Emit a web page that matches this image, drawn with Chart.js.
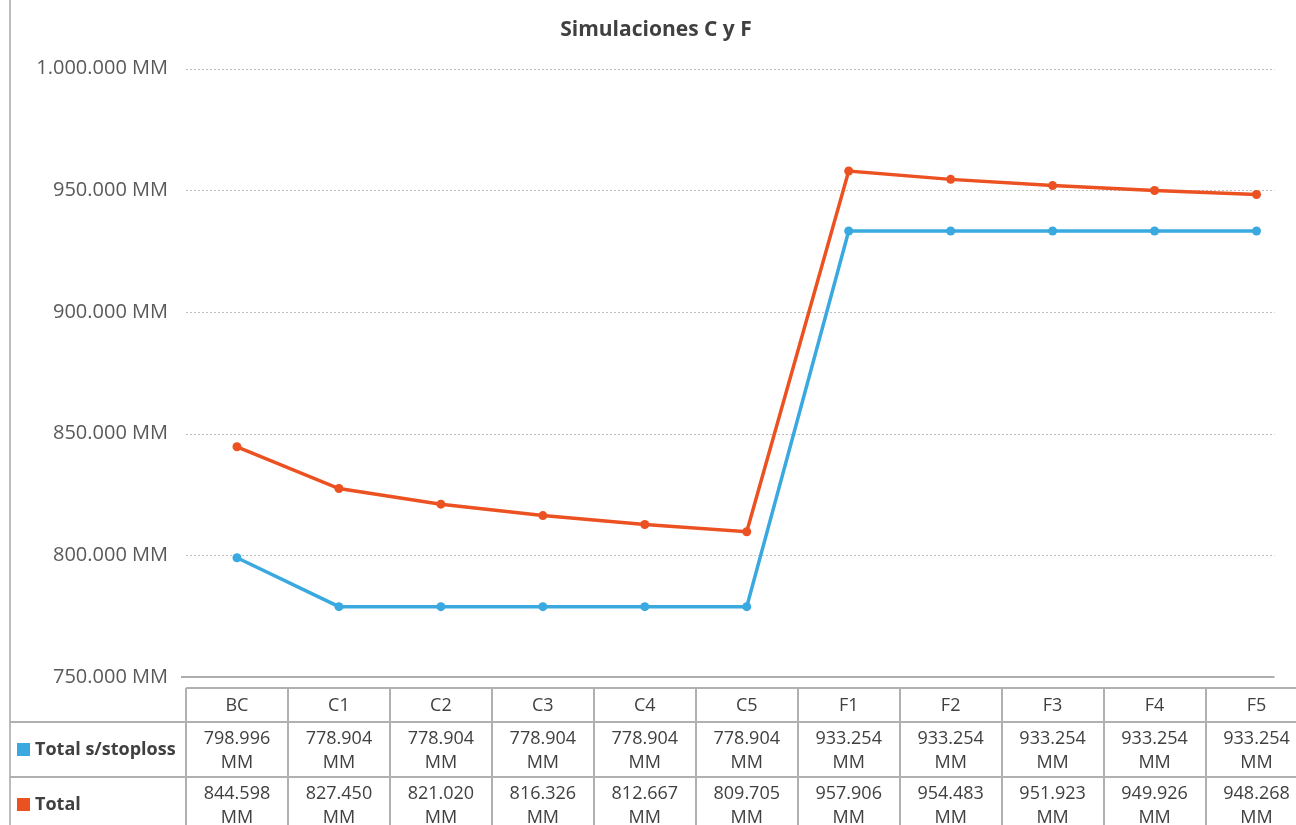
<!DOCTYPE html>
<html>
<head>
<meta charset="utf-8">
<script src="https://cdn.jsdelivr.net/npm/chart.js@4/dist/chart.umd.min.js"></script>
<style>
  html, body { margin: 0; padding: 0; background: #fff; overflow: hidden; }
  canvas { display: block; }
</style>
</head>
<body>
<canvas id="canvas" width="1312" height="825"></canvas>
<script>
// datos (en MM)
var categorias = ['BC', 'C1', 'C2', 'C3', 'C4', 'C5', 'F1', 'F2', 'F3', 'F4', 'F5']
var totalSinStoploss = [798996, 778904, 778904, 778904, 778904, 778904, 933254, 933254, 933254, 933254, 933254]
var totalConStoploss = [844598, 827450, 821020, 816326, 812667, 809705, 957906, 954483, 951923, 949926, 948268]
var nombresSeries = ['Total s/stoploss', 'Total']
var yMin = 750000
var yMax = 1000000
var yPaso = 50000

var azul = '#3AA9E0'
var naranja = '#EC5121'
var fuente = '"Open Sans", "Liberation Sans", sans-serif'

function formato(v) {
    return String(Math.round(v)).replace(/\B(?=(\d{3})+(?!\d))/g, '.') + ' MM'
}

// rejilla punteada, eje, borde y tabla de datos
var tablaPlugin = {
    id: 'tabla',
    beforeDatasetsDraw: function (chart) {
        var ctx = chart.ctx
        var ca = chart.chartArea
        var y = chart.scales.y
        var derecha = ca.right - 33
        ctx.save()
        ctx.strokeStyle = '#BDBDBD'
        ctx.lineWidth = 1
        ctx.setLineDash([2, 2])
        y.ticks.forEach(function (t) {
            if (t.value == yMin) return
            var py = Math.round(y.getPixelForValue(t.value)) + 0.5
            ctx.beginPath()
            ctx.moveTo(ca.left, py)
            ctx.lineTo(derecha, py)
            ctx.stroke()
        })
        ctx.setLineDash([])
        ctx.strokeStyle = '#ADADAD'
        ctx.lineWidth = 2
        var py0 = Math.round(y.getPixelForValue(yMin))
        ctx.beginPath()
        ctx.moveTo(ca.left - 5, py0)
        ctx.lineTo(derecha, py0)
        ctx.stroke()
        ctx.restore()
    },
    afterDraw: function (chart) {
        var ctx = chart.ctx
        var ca = chart.chartArea
        var x = chart.scales.x
        var n = categorias.length
        var colW = (ca.right - ca.left) / n
        var top = ca.bottom + 11
        var hHead = 34
        var hRow = 55
        var bordeIzq = 10
        var abajo = chart.height + 10
        ctx.save()
        // borde del grafico
        ctx.strokeStyle = '#A6A6A6'
        ctx.lineWidth = 1.5
        ctx.beginPath()
        ctx.moveTo(bordeIzq, 0)
        ctx.lineTo(bordeIzq, chart.height)
        ctx.stroke()

        ctx.strokeStyle = '#B0B0B0'
        ctx.lineWidth = 2
        ctx.beginPath()
        ctx.moveTo(ca.left, top)
        ctx.lineTo(ca.right, top)
        ctx.moveTo(bordeIzq, top + hHead)
        ctx.lineTo(ca.right, top + hHead)
        ctx.moveTo(bordeIzq, top + hHead + hRow)
        ctx.lineTo(ca.right, top + hHead + hRow)
        for (var i = 0; i <= n; i++) {
            var xl = Math.round(ca.left + i * colW)
            ctx.moveTo(xl, top)
            ctx.lineTo(xl, abajo)
        }
        ctx.stroke()

        ctx.textAlign = 'center'
        ctx.textBaseline = 'middle'
        ctx.fillStyle = '#404040'
        ctx.font = '18px ' + fuente
        var series = [totalSinStoploss, totalConStoploss]
        for (var i = 0; i < n; i++) {
            var cx = x.getPixelForValue(i)
            ctx.fillText(categorias[i], cx, top + 18)
            for (var s = 0; s < series.length; s++) {
                var rt = top + hHead + s * hRow
                var partes = formato(series[s][i]).split(' ')
                ctx.fillText(partes[0], cx, rt + 17)
                ctx.fillText(partes[1], cx, rt + 41)
            }
        }

        // leyenda dentro de la tabla
        var colores = [azul, naranja]
        ctx.textAlign = 'left'
        ctx.font = 'bold 18px ' + fuente
        for (var s = 0; s < nombresSeries.length; s++) {
            var cy = top + hHead + s * hRow + 27
            ctx.fillStyle = colores[s]
            ctx.fillRect(17, cy - 6, 13, 13)
            ctx.fillStyle = '#404040'
            ctx.fillText(nombresSeries[s], 35, cy + 1)
        }
        ctx.restore()
    }
}

var chart = new Chart(canvas, {
    type: 'line',
    data: {
        labels: categorias,
        datasets: [{
            label: nombresSeries[0],
            data: totalSinStoploss,
            borderColor: azul,
            backgroundColor: azul,
            pointBackgroundColor: azul,
            borderWidth: 3.5,
            pointRadius: 4.5,
            pointBorderWidth: 0,
            fill: false
        }, {
            label: nombresSeries[1],
            data: totalConStoploss,
            borderColor: naranja,
            backgroundColor: naranja,
            pointBackgroundColor: naranja,
            borderWidth: 3.5,
            pointRadius: 4.5,
            pointBorderWidth: 0,
            fill: false
        }]
    },
    options: {
        responsive: false,
        animation: false,
        layout: {
            padding: { left: 0, right: 0, top: 0, bottom: 148 }
        },
        plugins: {
            legend: { display: false },
            tooltip: { enabled: false },
            title: {
                display: true,
                text: 'Simulaciones C y F',
                color: '#404040',
                font: { family: fuente, size: 21, weight: 'bold' },
                padding: { top: 17, bottom: 26.4 }
            }
        },
        scales: {
            x: {
                display: false,
                offset: true
            },
            y: {
                min: yMin,
                max: yMax,
                grid: { display: false, drawTicks: false },
                border: { display: false },
                ticks: {
                    stepSize: yPaso,
                    padding: 18,
                    color: '#595959',
                    font: { family: fuente, size: 20 },
                    callback: function (v) { return formato(v) }
                },
                afterFit: function (s) { s.width = 186 }
            }
        }
    },
    plugins: [tablaPlugin]
})
</script>
</body>
</html>
